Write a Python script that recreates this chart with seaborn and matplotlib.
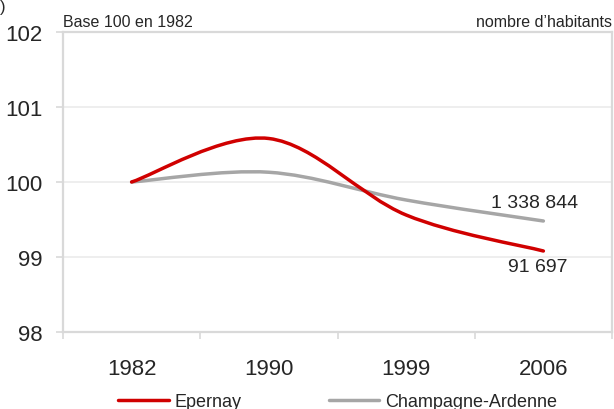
import matplotlib
matplotlib.use("Agg")
import matplotlib.pyplot as plt
import seaborn as sns
from matplotlib.path import Path
from matplotlib.patches import PathPatch
from matplotlib.lines import Line2D
from matplotlib.ticker import FixedLocator

years = ["1982", "1990", "1999", "2006"]
epernay = [100, 100.58, 99.56, 99.08]
champagne = [100, 100.13, 99.76, 99.48]
series_names = ["Epernay", "Champagne-Ardenne"]
end_labels = ["91 697", "1 338 844"]
y_ticks = [98, 99, 100, 101, 102]

RED = "#D00000"
GREY = "#A6A6A6"
AXIS = "#D9D9D9"
TEXT = "#262626"


def smooth_path(xs, ys):
   # Catmull-Rom style bezier, like the smoothed lines of a spreadsheet chart
   pts = list(zip(xs, ys))
   verts = [pts[0]]
   codes = [Path.MOVETO]
   for i in range(len(pts) - 1):
      p0 = pts[i - 1] if i > 0 else pts[i]
      p1 = pts[i]
      p2 = pts[i + 1]
      p3 = pts[i + 2] if i + 2 < len(pts) else pts[i + 1]
      c1 = (p1[0] + (p2[0] - p0[0]) / 6, p1[1] + (p2[1] - p0[1]) / 6)
      c2 = (p2[0] - (p3[0] - p1[0]) / 6, p2[1] - (p3[1] - p1[1]) / 6)
      verts += [c1, c2, p2]
      codes += [Path.CURVE4] * 3
   return Path(verts, codes)


sns.set_theme(style="white")
plt.rcParams['font.family'] = ['Liberation Sans', 'DejaVu Sans']

fig = plt.figure(figsize=(6.14, 4.10), dpi=100)
ax = fig.add_axes([63 / 614, 77 / 410, 549 / 614, 300 / 410])

xs = list(range(len(years)))
for vals, color in [(champagne, GREY), (epernay, RED)]:
   patch = PathPatch(smooth_path(xs, vals), facecolor='none', edgecolor=color,
                     linewidth=2.5, capstyle='round', zorder=3)
   ax.add_patch(patch)

ax.set_xlim(-0.5, len(years) - 0.5)
ax.set_ylim(98, 102)
ax.set_yticks(y_ticks)
ax.set_yticklabels([str(v) for v in y_ticks])
ax.set_xticks(xs)
ax.set_xticklabels(years)
ax.xaxis.set_minor_locator(FixedLocator([x - 0.5 for x in range(len(years) + 1)]))

ax.grid(axis='y', color="#EBEBEB", linewidth=1.2, zorder=0)
for s in ax.spines.values():
   s.set_color(AXIS)
   s.set_linewidth(1.6)

ax.tick_params(axis='y', which='major', length=5, width=1.2, color=AXIS,
               labelsize=16, labelcolor=TEXT, pad=10, left=True)
ax.tick_params(axis='x', which='major', length=0, labelsize=16,
               labelcolor=TEXT, pad=19, bottom=True)
ax.tick_params(axis='x', which='minor', length=5, width=1.2, color=AXIS, bottom=True)

ax.annotate(end_labels[1], (xs[-1], champagne[-1]), xytext=(-6.5, 13.5),
            textcoords='offset points', ha='center', va='center',
            fontsize=14, color=TEXT)
ax.annotate(end_labels[0], (xs[-1], epernay[-1]), xytext=(-4.3, -11.5),
            textcoords='offset points', ha='center', va='center',
            fontsize=14, color=TEXT)

ax.text(0.0, 1.01, "Base 100 en 1982", transform=ax.transAxes, ha='left',
        va='bottom', fontsize=11.5, color=TEXT)
ax.text(1.0, 1.01, "nombre d\u2019habitants", transform=ax.transAxes, ha='right',
        va='bottom', fontsize=11.5, color=TEXT)
fig.text(0.0, 1.0, ")", ha='left', va='top', fontsize=12, color=TEXT)

handles = [Line2D([], [], color=RED, linewidth=2.5),
           Line2D([], [], color=GREY, linewidth=2.5)]
fig.legend(handles, series_names, loc='center', bbox_to_anchor=(0.55, 0.018),
           ncol=2, frameon=False, fontsize=13, handlelength=2.8,
           handletextpad=0.35, columnspacing=4.8, labelcolor=TEXT)

fig.savefig("out.png", dpi=100)
